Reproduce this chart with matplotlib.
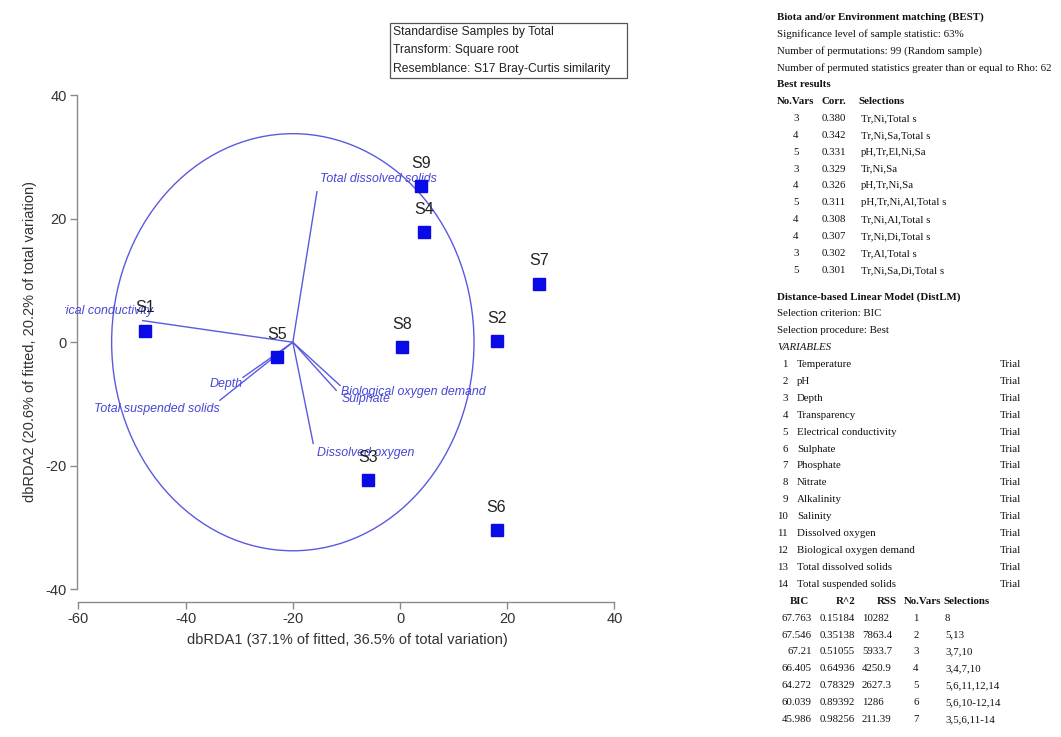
import matplotlib
matplotlib.use("Agg")
import matplotlib.pyplot as plt
from matplotlib.patches import Ellipse, Rectangle

# ---------------- data ----------------
samples = ['S1', 'S2', 'S3', 'S4', 'S5', 'S6', 'S7', 'S8', 'S9']
dbrda1 = [-47.6, 18.1, -6.0, 4.5, -23.0, 18.0, 26.0, 0.3, 4.0]
dbrda2 = [1.9, 0.2, -22.4, 17.8, -2.4, -30.5, 9.5, -0.8, 25.3]

vec_names = ['Total dissolved solids', 'Electrical conductivity', 'Depth',
             'Total suspended solids', 'Sulphate', 'Biological oxygen demand',
             'Dissolved oxygen']
vec_end_x = [-15.5, -48.0, -29.3, -33.6, -11.9, -11.2, -16.2]
vec_end_y = [24.4, 3.5, -5.7, -9.4, -7.8, -7.0, -16.4]
circle_center = (-20.0, 0.0)
circle_radius = 33.8

x_ticks = [-60, -40, -20, 0, 20, 40]
y_ticks = [-40, -20, 0, 20, 40]
x_label = 'dbRDA1 (37.1% of fitted, 36.5% of total variation)'
y_label = 'dbRDA2 (20.6% of fitted, 20.2% of total variation)'

info_lines = ['Standardise Samples by Total', 'Transform: Square root',
              'Resemblance: S17 Bray-Curtis similarity']

best_header = ['Biota and/or Environment matching (BEST)',
               'Significance level of sample statistic: 63%',
               'Number of permutations: 99 (Random sample)',
               'Number of permuted statistics greater than or equal to Rho: 62',
               'Best results']
best_cols = ['No.Vars', 'Corr.', 'Selections']
best_nvars = [3, 4, 5, 3, 4, 5, 4, 4, 3, 5]
best_corr = ['0.380', '0.342', '0.331', '0.329', '0.326', '0.311', '0.308',
             '0.307', '0.302', '0.301']
best_sel = ['Tr,Ni,Total s', 'Tr,Ni,Sa,Total s', 'pH,Tr,El,Ni,Sa', 'Tr,Ni,Sa',
            'pH,Tr,Ni,Sa', 'pH,Tr,Ni,Al,Total s', 'Tr,Ni,Al,Total s',
            'Tr,Ni,Di,Total s', 'Tr,Al,Total s', 'Tr,Ni,Sa,Di,Total s']

dist_header = ['Distance-based Linear Model (DistLM)',
               'Selection criterion: BIC', 'Selection procedure: Best']
variables = ['Temperature', 'pH', 'Depth', 'Transparency',
             'Electrical conductivity', 'Sulphate', 'Phosphate', 'Nitrate',
             'Alkalinity', 'Salinity', 'Dissolved oxygen',
             'Biological oxygen demand', 'Total dissolved solids',
             'Total suspended solids']
var_status = ['Trial'] * 14
dist_cols = ['BIC', 'R^2', 'RSS', 'No.Vars', 'Selections']
bic = ['67.763', '67.546', '67.21', '66.405', '64.272', '60.039', '45.986']
r2 = ['0.15184', '0.35138', '0.51055', '0.64936', '0.78329', '0.89392', '0.98256']
rss = ['10282', '7863.4', '5933.7', '4250.9', '2627.3', '1286', '211.39']
dist_nvars = [1, 2, 3, 4, 5, 6, 7]
dist_sel = ['8', '5,13', '3,7,10', '3,4,7,10', '5,6,11,12,14', '5,6,10-12,14',
            '3,5,6,11-14']

# ---------------- figure ----------------
W, H = 1061, 737
fig = plt.figure(figsize=(W / 100, H / 100), dpi=100)
fig.patch.set_facecolor('white')

# axes placed in pixel terms
ax_l, ax_r, ax_t, ax_b = 65, 630, 80, 602
ax = fig.add_axes([ax_l / W, 1 - ax_b / H, (ax_r - ax_l) / W, (ax_b - ax_t) / H])
ax.set_xlim(-62.5, 42.9)
ax.set_ylim(-42.1, 42.5)
ax.patch.set_alpha(0)

sans = ['Liberation Sans', 'DejaVu Sans']
serif = ['Liberation Serif', 'DejaVu Serif']
spine_col = '#8a8a8a'
vec_col = '#5a5ae0'
lab_col = '#4646d6'

for s in ['top', 'right']:
    ax.spines[s].set_visible(False)
ax.spines['left'].set_position(('data', -60.3))
ax.spines['left'].set_bounds(-40, 40)
ax.spines['bottom'].set_bounds(-60, 40)
for s in ['left', 'bottom']:
    ax.spines[s].set_color(spine_col)
    ax.spines[s].set_linewidth(1.0)
ax.set_xticks(x_ticks)
ax.set_yticks(y_ticks)
ax.set_xticklabels([str(v) for v in x_ticks], fontfamily=sans, fontsize=10.5, color='#333333')
ax.set_yticklabels([str(v) for v in y_ticks], fontfamily=sans, fontsize=10.5, color='#333333')
ax.tick_params(direction='out', length=5, width=1, color=spine_col, pad=2)
ax.set_xlabel(x_label, fontfamily=sans, fontsize=10.5, color='#333333', labelpad=5)
ax.set_ylabel(y_label, fontfamily=sans, fontsize=10.5, color='#333333', labelpad=6)

# circle
ax.add_patch(Ellipse(circle_center, 2 * circle_radius, 2 * circle_radius,
                     fill=False, edgecolor=vec_col, lw=1.0, zorder=1))

# vectors
lab_style = {
    'Total dissolved solids': ('left', 2, 9),
    'Electrical conductivity': ('right', 7, 7),
    'Depth': ('right', 0, -5),
    'Total suspended solids': ('right', 0, -6),
    'Sulphate': ('left', 4, -6),
    'Biological oxygen demand': ('left', 1, -5),
    'Dissolved oxygen': ('left', 3, -7),
}
for name, ex, ey in zip(vec_names, vec_end_x, vec_end_y):
    ax.plot([circle_center[0], ex], [circle_center[1], ey], color=vec_col, lw=1.0, zorder=2)
    ha, dx, dy = lab_style[name]
    ax.annotate(name, (ex, ey), xytext=(dx, dy), textcoords='offset points',
                ha=ha, va='center', fontsize=8.9, fontstyle='italic',
                fontfamily=sans, color=lab_col, clip_on=True, zorder=3,
                annotation_clip=False)

# samples
ax.plot(dbrda1, dbrda2, 's', color='#0a0ae6', markersize=8.8, zorder=4, linestyle='none')
for name, x, y in zip(samples, dbrda1, dbrda2):
    ax.annotate(name, (x, y), xytext=(0, 11), textcoords='offset points',
                ha='center', va='bottom', fontsize=11.5, fontfamily=sans,
                color='#222222', zorder=5)

# info box
fig.patches.append(Rectangle((390 / W, 1 - 78 / H), (627 - 390) / W, (78 - 23) / H,
                             transform=fig.transFigure, fill=False,
                             edgecolor='#555555', lw=0.9))
for i, line in enumerate(info_lines):
    fig.text(393 / W, 1 - (32 + 18.3 * i) / H, line, fontsize=8.7, fontfamily=sans,
             color='#222222', va='center', ha='left')


def ft(xp, yp, s, ha='left', bold=False, italic=False):
    fig.text(xp / W, 1 - yp / H, s, ha=ha, va='center', fontsize=7.8,
             fontfamily=serif, color='#111111',
             fontweight='bold' if bold else 'normal',
             fontstyle='italic' if italic else 'normal')


step = 16.9
x0 = 777
# BEST
ft(x0, 17, best_header[0], bold=True)
for i in range(1, 4):
    ft(x0, 17 + step * i, best_header[i])
ft(x0, 17 + step * 4, best_header[4], bold=True)
yh = 17 + step * 5
ft(x0, yh, best_cols[0], bold=True)
ft(822, yh, best_cols[1], bold=True)
ft(858, yh, best_cols[2], bold=True)
for i in range(len(best_nvars)):
    y = yh + step * (i + 1)
    ft(796, y, str(best_nvars[i]), ha='center')
    ft(822, y, best_corr[i])
    ft(861, y, best_sel[i])

# DistLM
yd = 297
ft(x0, yd, dist_header[0], bold=True)
ft(x0, yd + step, dist_header[1])
ft(x0, yd + 2 * step, dist_header[2])
ft(x0, yd + 3 * step, 'VARIABLES', italic=True)
for i, v in enumerate(variables):
    y = yd + step * (4 + i)
    ft(788, y, str(i + 1), ha='right')
    ft(797, y, v)
    ft(1000, y, var_status[i])
yt = yd + step * 18
ft(799, yt, dist_cols[0], ha='center', bold=True)
ft(846, yt, dist_cols[1], ha='center', bold=True)
ft(887, yt, dist_cols[2], ha='center', bold=True)
ft(904, yt, dist_cols[3], bold=True)
ft(943, yt, dist_cols[4], bold=True)
for i in range(len(bic)):
    y = yt + step * (i + 1)
    ft(812, y, bic[i], ha='right')
    ft(820, y, r2[i])
    ft(862, y, rss[i])
    ft(916, y, str(dist_nvars[i]), ha='center')
    ft(945, y, dist_sel[i])

fig.savefig('out.png', dpi=100, facecolor='white')
